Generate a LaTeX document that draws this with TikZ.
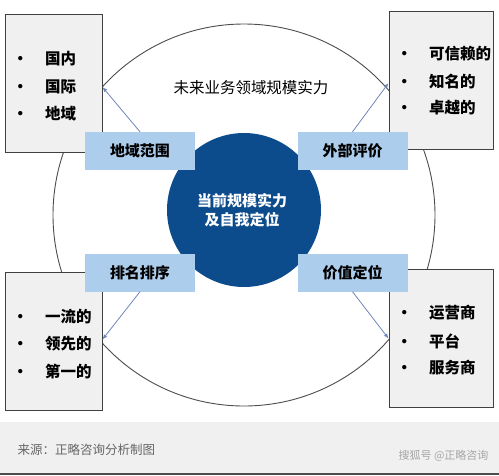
\documentclass[tikz,border=0pt]{standalone}
\usepackage{fontspec}
\setmainfont{Noto Sans CJK SC}
\usepackage{xcolor}
\usetikzlibrary{arrows.meta, positioning}

\definecolor{deepblue}{HTML}{0D4C8C}
\definecolor{paleblue}{HTML}{ADCDEC}
\definecolor{boxgray}{HTML}{F0F0F0}
\definecolor{linkblue}{HTML}{6F86B8}

\tikzset{
  listbox/.style={draw=black!75, fill=boxgray, line width=0.9pt, minimum width=97pt, minimum height=138pt},
  labelbox/.style={fill=paleblue, minimum width=110pt, minimum height=38pt, font=\fontsize{15}{18}\selectfont\bfseries},
  item/.style={anchor=west, font=\fontsize{15.5}{18}\selectfont\bfseries},
  link/.style={linkblue, line width=0.8pt, -{Latex[length=5pt, width=4pt]}}
}

\begin{document}
\begin{tikzpicture}[x=1pt, y=-1pt]
  \useasboundingbox (0, 0) rectangle (499, 475);
  % footer
  \fill[black!6] (0, 422) rectangle (499, 475);
  \draw[black!70, line width=1.5pt] (0, 474) -- (499, 474);
  \node[anchor=west, black!60, font=\fontsize{12.5}{14}\selectfont] (src) at (14, 450) {来源：正略咨询分析制图};
  \node[anchor=east, black!35, font=\fontsize{11}{13}\selectfont\itshape] (sohu) at (492, 456) {搜狐号 @正略咨询};

  % circles
  \draw[black!70, line width=0.9pt] (244, 215) circle (191);
  \fill[deepblue] (244, 210) circle (77);
  \node[white, align=center, font=\fontsize{15}{19}\selectfont\bfseries] (core) at (242, 210) {当前规模实力\\及自我定位};
  \node[font=\fontsize{15.5}{18}\selectfont] (future) at (251, 88) {未来业务领域规模实力};

  % list boxes
  \node[listbox] (tl) at (53.5, 83) {};
  \node[listbox, minimum width=104pt] (tr) at (441, 80) {};
  \node[listbox] (bl) at (53.5, 341.5) {};
  \node[listbox, minimum width=104pt] (br) at (441, 338.5) {};

  \node[item] (tl1) at (9, 59) {\textbullet\hspace{17pt}国内};
  \node[item] (tl2) at (9, 87) {\textbullet\hspace{17pt}国际};
  \node[item] (tl3) at (9, 114) {\textbullet\hspace{17pt}地域};

  \node[item] (tr1) at (393, 54) {\textbullet\hspace{17pt}可信赖的};
  \node[item] (tr2) at (393, 82) {\textbullet\hspace{17pt}知名的};
  \node[item] (tr3) at (393, 108) {\textbullet\hspace{17pt}卓越的};

  \node[item] (bl1) at (9, 317) {\textbullet\hspace{17pt}一流的};
  \node[item] (bl2) at (9, 344) {\textbullet\hspace{17pt}领先的};
  \node[item] (bl3) at (9, 372) {\textbullet\hspace{17pt}第一的};

  \node[item] (br1) at (393, 313) {\textbullet\hspace{17pt}运营商};
  \node[item] (br2) at (393, 341) {\textbullet\hspace{17pt}平台};
  \node[item] (br3) at (393, 368) {\textbullet\hspace{17pt}服务商};

  % labels
  \node[labelbox] (geo) at (140, 151) {地域范围};
  \node[labelbox] (ext) at (352.5, 151) {外部评价};
  \node[labelbox] (rank) at (140, 272.5) {排名排序};
  \node[labelbox] (value) at (352.5, 272.5) {价值定位};

  \draw[link] (geo.north) -- ([yshift=-4pt]tl.east);
  \draw[link] (ext.north) -- ([yshift=-3pt]tr.west);
  \draw[link] (rank.south) -- ([yshift=2pt]bl.east);
  \draw[link] (value.south) -- (br.west);
\end{tikzpicture}
\end{document}
